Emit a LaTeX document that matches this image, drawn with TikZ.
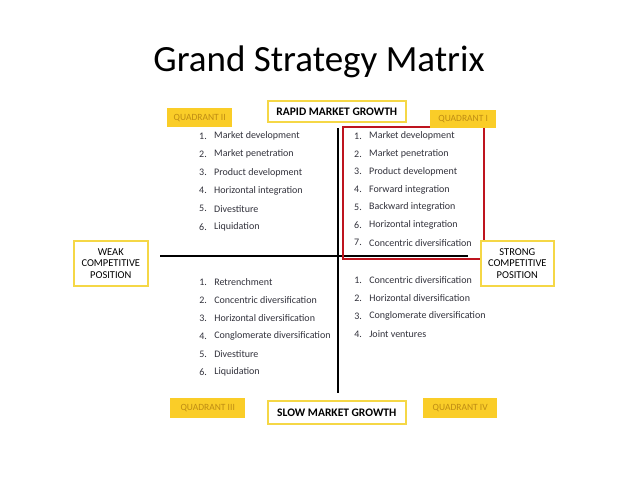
\documentclass[tikz,border=0pt]{standalone}
\usepackage{fontspec}
\setmainfont{Carlito}
\definecolor{yfill}{RGB}{250,205,40}
\definecolor{ytext}{RGB}{190,140,20}
\definecolor{yline}{RGB}{245,215,70}
\definecolor{redbox}{RGB}{190,20,30}
\definecolor{itemtext}{RGB}{50,50,60}
\tikzset{x=1pt,y=-1pt,
 quad/.style={fill=yfill,text=ytext,font=\fontsize{9.5}{10}\selectfont,inner sep=0pt,anchor=north west},
 axbox/.style={draw=yline,line width=1.6pt,fill=white,font=\fontsize{11.5}{12}\selectfont\bfseries,inner sep=0pt,anchor=north west,align=center},
 item/.style={anchor=west,font=\fontsize{10}{11}\selectfont,text=itemtext,inner sep=0pt}}
\newcommand{\mylist}[4]{% x, y0, step, items
 \foreach \t [count=\i] in {#4}{
  \node[item] (n#1-\i) at (#1,{#2+(\i-1)*#3}) {\i.};
  \node[item] (t#1-\i) at (#1+15,{#2+(\i-1)*#3}) {\t};}}
\begin{document}
\begin{tikzpicture}
\useasboundingbox[fill=white] (0,0) rectangle (638,479);
\node[font=\fontsize{37}{40}\selectfont] (title) at (319,62) {Grand Strategy Matrix};
\coordinate (hl) at (160,256); \coordinate (hr) at (468,256);
\coordinate (vt) at (338,128); \coordinate (vb) at (338,393);
\draw[line width=1.6pt] (hl) -- (hr);
\draw[line width=1.6pt] (vt) -- (vb);
\draw[redbox,line width=1.6pt] (343,127) rectangle (484,259);
\node[axbox,minimum width=138,minimum height=21] (rapid) at (267,100) {RAPID MARKET GROWTH};
\node[axbox,minimum width=138,minimum height=23] (slow) at (267,400) {SLOW MARKET GROWTH};
\node[axbox,minimum width=74,minimum height=45,font=\fontsize{10.5}{11.5}\selectfont] (weak) at (73,240) {WEAK\\COMPETITIVE\\POSITION};
\node[axbox,minimum width=73,minimum height=45,font=\fontsize{10.5}{11.5}\selectfont] (strong) at (480,240) {STRONG\\COMPETITIVE\\POSITION};
\node[quad,minimum width=65,minimum height=19] (q2) at (167,108) {QUADRANT II};
\node[quad,minimum width=66,minimum height=18] (q1) at (430,110) {QUADRANT I};
\node[quad,minimum width=75,minimum height=20] (q3) at (170,398) {QUADRANT III};
\node[quad,minimum width=74,minimum height=20] (q4) at (423,398) {QUADRANT IV};
\mylist{199}{136}{18.2}{Market development,Market penetration,Product development,Horizontal integration,Divestiture,Liquidation}
\mylist{354}{136}{17.8}{Market development,Market penetration,Product development,Forward integration,Backward integration,Horizontal integration,Concentric diversification}
\mylist{199.1}{282}{18}{Retrenchment,Concentric diversification,Horizontal diversification,Conglomerate diversification,Divestiture,Liquidation}
\mylist{354.1}{280}{18}{Concentric diversification,Horizontal diversification,Conglomerate diversification,Joint ventures}
\end{tikzpicture}
\end{document}
